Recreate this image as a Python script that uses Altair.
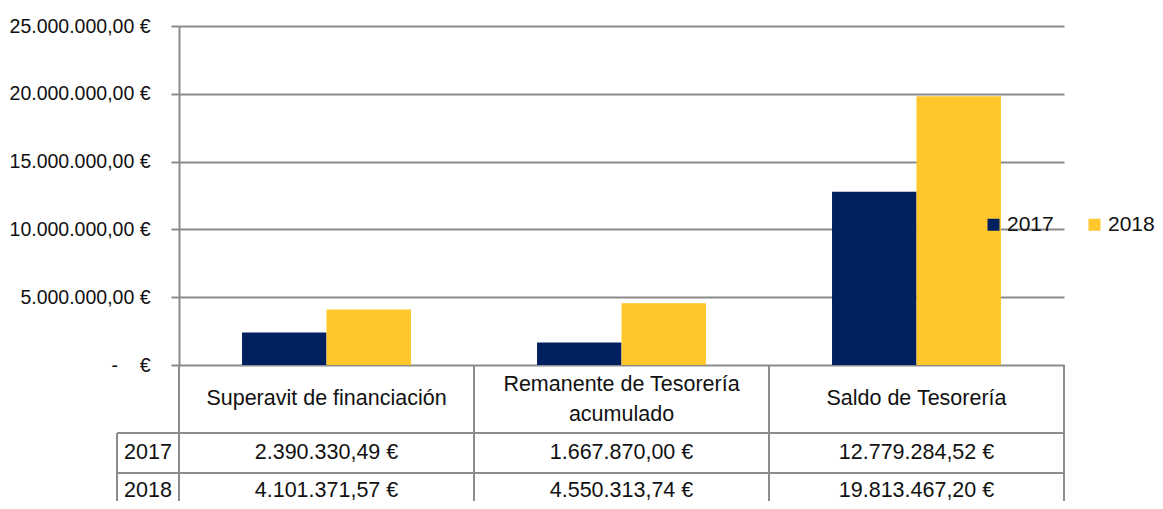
import altair as alt
import pandas as pd

categories = ["Superavit de financiación", "Remanente de Tesorería\nacumulado", "Saldo de Tesorería"]
years = ["2017", "2018"]
values_2017 = [2390330.49, 1667870.00, 12779284.52]
values_2018 = [4101371.57, 4550313.74, 19813467.20]
y_ticks = [0, 5000000, 10000000, 15000000, 20000000, 25000000]
colors = ["#002060", "#FFC72C"]

FONT = "Liberation Sans"
GRID = "#8c8c8c"
TXT = "#111111"
W, H = 885, 339


def es(v):
    s = f"{v:,.2f}".replace(",", "X").replace(".", ",").replace("X", ".")
    return s + " €"


rows = []
for i, c in enumerate(categories):
    rows.append({"cat": c, "year": "2017", "value": values_2017[i], "label": es(values_2017[i])})
    rows.append({"cat": c, "year": "2018", "value": values_2018[i], "label": es(values_2018[i])})
df = pd.DataFrame(rows)
cat_df = pd.DataFrame({"cat": categories})

# y-axis label expression built from tick list
expr = "'\u00a0'"
for t in y_ticks:
    lab = "-\u00a0\u00a0\u00a0 €" if t == 0 else es(t)
    expr = f"datum.value == {t} ? '{lab}' : ({expr})"

xs = alt.Scale(domain=categories, paddingInner=0, paddingOuter=0)
row_scale = alt.Scale(domain=years, range=[427, 465], padding=0)

bars = alt.Chart(df).mark_bar().encode(
    x=alt.X("cat:N", scale=xs, sort=categories, axis=None),
    xOffset=alt.XOffset("year:N", scale=alt.Scale(paddingOuter=0.746, paddingInner=0)),
    y=alt.Y(
        "value:Q",
        scale=alt.Scale(domain=[0, 25000000], nice=False),
        axis=alt.Axis(
            values=y_ticks, labelExpr=expr, title=None, grid=True, gridColor=GRID, gridWidth=2,
            domainColor=GRID, domainWidth=2, tickColor=GRID, tickWidth=2, tickSize=8,
            labelPadding=21, labelFont=FONT, labelFontSize=19.5, labelColor=TXT,
        ),
    ),
    color=alt.Color(
        "year:N", scale=alt.Scale(domain=years, range=colors),
        legend=alt.Legend(
            title=None, orient="none", legendX=804, legendY=188, direction="horizontal",
            symbolType="square", symbolSize=144, symbolStrokeWidth=0, labelFont=FONT,
            labelFontSize=21, labelColor=TXT, labelOffset=3, columnPadding=30,
        ),
    ),
)

# table: vertical column lines
vlines = alt.Chart(cat_df).mark_rule(color=GRID, strokeWidth=2).encode(
    x=alt.X("cat:N", scale=xs, sort=categories, bandPosition=0),
    y=alt.value(H), y2=alt.value(H + 200),
)
vline_right = alt.Chart(cat_df.head(1)).mark_rule(color=GRID, strokeWidth=2).encode(
    x=alt.value(W), y=alt.value(H), y2=alt.value(H + 200),
)
vline_left = alt.Chart(cat_df.head(1)).mark_rule(color=GRID, strokeWidth=2).encode(
    x=alt.value(-62), y=alt.value(407), y2=alt.value(H + 200),
)
hl_df = pd.DataFrame({"yy": [407, 447]})
hlines = alt.Chart(hl_df).mark_rule(color=GRID, strokeWidth=2).encode(
    x=alt.value(-62), x2=alt.value(W), y=alt.Y("yy:Q", scale=None),
)

header = alt.Chart(cat_df).transform_calculate(
    hy="373 - (length(split(datum.cat, '\\n')) - 1) * 14"
).mark_text(
    font=FONT, fontSize=21.5, color=TXT, baseline="middle", lineBreak="\n", lineHeight=30
).encode(
    x=alt.X("cat:N", scale=xs, sort=categories, bandPosition=0.5),
    y=alt.Y("hy:Q", scale=None),
    text="cat:N",
)

cells = alt.Chart(df).mark_text(
    font=FONT, fontSize=21.5, color=TXT, baseline="middle"
).encode(
    x=alt.X("cat:N", scale=xs, sort=categories, bandPosition=0.5),
    y=alt.Y("year:N", scale=row_scale, axis=None),
    text="label:N",
)

rowlab = alt.Chart(pd.DataFrame({"year": years})).mark_text(
    font=FONT, fontSize=21.5, color=TXT, baseline="middle"
).encode(
    x=alt.value(-31),
    y=alt.Y("year:N", scale=row_scale, axis=None),
    text="year:N",
)

chart = alt.layer(bars, vlines, vline_right, vline_left, hlines, header, cells, rowlab).resolve_scale(
    y="independent"
).properties(
    width=W, height=H,
    autosize=alt.AutoSizeParams(type="none"),
    padding={"left": 171, "top": 18, "right": 91, "bottom": 136},
).configure_view(stroke=None)

chart.save("out.html", embed_options={"renderer": "svg", "actions": False})
